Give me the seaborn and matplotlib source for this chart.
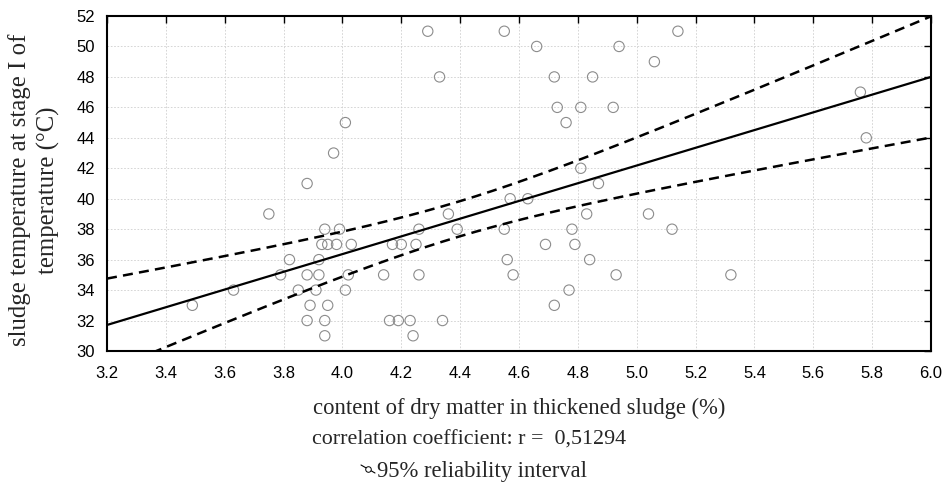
import numpy as np
import pandas as pd
import matplotlib
matplotlib.use("Agg")
import matplotlib.pyplot as plt
import seaborn as sns
from matplotlib.lines import Line2D

# ---- data ----
dry_matter = [3.49, 3.63, 3.75, 3.82, 3.79, 3.85, 3.88, 3.88, 3.92, 3.92, 3.91, 3.89, 3.95,
              3.88, 3.94, 3.94, 3.97, 4.01, 3.94, 3.99, 3.93, 3.95, 3.98, 4.03, 4.02, 4.01,
              4.29, 4.33, 4.55, 4.66, 4.72, 4.73, 4.76, 4.36, 4.26, 4.39, 4.17, 4.20, 4.25,
              4.14, 4.26, 4.16, 4.19, 4.23, 4.34, 4.24, 4.57, 4.63, 4.55, 4.69, 4.56, 4.58,
              4.72, 5.14, 4.94, 5.06, 4.85, 4.81, 4.92, 5.76, 5.78, 4.81, 4.87, 4.83, 5.04,
              4.78, 5.12, 4.79, 4.84, 4.93, 5.32, 4.77]
temperature = [33, 34, 39, 36, 35, 34, 41, 35, 35, 36, 34, 33, 33,
               32, 32, 31, 43, 45, 38, 38, 37, 37, 37, 37, 35, 34,
               51, 48, 51, 50, 48, 46, 45, 39, 38, 38, 37, 37, 37,
               35, 35, 32, 32, 32, 32, 31, 40, 40, 38, 37, 36, 35,
               33, 51, 50, 49, 48, 46, 46, 47, 44, 42, 41, 39, 39,
               38, 38, 37, 36, 35, 35, 34]
x_ticks = [3.2, 3.4, 3.6, 3.8, 4.0, 4.2, 4.4, 4.6, 4.8, 5.0, 5.2, 5.4, 5.6, 5.8, 6.0]
y_ticks = [30, 32, 34, 36, 38, 40, 42, 44, 46, 48, 50, 52]
x_label = "content of dry matter in thickened sludge (%)"
y_label = "sludge temperature at stage I of\ntemperature (°C)"
corr_text = "correlation coefficient: r =  0,51294"
legend_text = "95% reliability interval"

df = pd.DataFrame({"x": dry_matter, "y": temperature})

# regression line and 95% confidence band computed from the data
xa = np.asarray(dry_matter, float)
ya = np.asarray(temperature, float)
n = len(xa)
b1, b0 = np.polyfit(xa, ya, 1)
resid = ya - (b0 + b1 * xa)
s = np.sqrt(np.sum(resid ** 2) / (n - 2))
sxx = np.sum((xa - xa.mean()) ** 2)
tval = 1.9944  # t(0.975, n-2) approx
xg = np.linspace(x_ticks[0], x_ticks[-1], 200)
yg = b0 + b1 * xg
half = tval * s * np.sqrt(1.0 / n + (xg - xa.mean()) ** 2 / sxx)
fit = pd.DataFrame({"x": xg, "fit": yg, "lo": yg - half, "hi": yg + half})

sns.set_theme(style="white")
plt.rcParams["font.family"] = ["Liberation Sans", "DejaVu Sans"]

fig = plt.figure(figsize=(9.47, 4.84), dpi=100)
ax = fig.add_axes([107 / 947, 1 - 351 / 484, (931 - 107) / 947, (351 - 16) / 484])

sns.scatterplot(data=df, x="x", y="y", ax=ax, marker="o", s=55,
                facecolor="none", edgecolor="#8c8c8c", linewidth=0.8, zorder=3)
sns.lineplot(data=fit, x="x", y="fit", ax=ax, color="black", linewidth=1.6, zorder=4)
sns.lineplot(data=fit, x="x", y="hi", ax=ax, color="black", linewidth=1.8,
             linestyle=(0, (4, 2.5)), zorder=4)
sns.lineplot(data=fit, x="x", y="lo", ax=ax, color="black", linewidth=1.8,
             linestyle=(0, (4, 2.5)), zorder=4)

ax.set_xlim(x_ticks[0], x_ticks[-1])
ax.set_ylim(y_ticks[0], y_ticks[-1])
ax.set_xticks(x_ticks)
ax.set_yticks(y_ticks)
ax.set_xticklabels([f"{v:.1f}" for v in x_ticks], fontsize=12)
ax.set_yticklabels([f"{v}" for v in y_ticks], fontsize=12)
ax.tick_params(direction="in", length=5, width=1, top=True, right=True,
               colors="black")
ax.tick_params(axis="x", pad=10.5)
ax.tick_params(axis="y", pad=8.5)
ax.grid(True, color="#cfcfcf", linestyle=(0, (2, 2)), linewidth=0.6)
ax.set_axisbelow(True)
for sp in ax.spines.values():
    sp.set_color("black")
    sp.set_linewidth(1.5)
ax.set_xlabel("")
ax.set_ylabel("")

serif = ["Liberation Serif", "DejaVu Serif"]
fig.text(519 / 947, 1 - 408 / 484, x_label, ha="center", va="center",
         fontsize=16.3, family=serif)
fig.text(312 / 947, 1 - 440 / 484, corr_text, ha="left", va="center",
         fontsize=15.8, family=serif)
fig.text(377 / 947, 1 - 472 / 484, legend_text, ha="left", va="center",
         fontsize=16.3, family=serif)
fig.text(34 / 947, 1 - 190 / 484, y_label, ha="center", va="center",
         rotation=90, fontsize=17.8, family=serif, linespacing=1.35)

# legend icon: short line with small circle
fig.add_artist(Line2D([361 / 947, 375 / 947], [1 - 465 / 484, 1 - 473 / 484],
                      color="black", linewidth=0.8, transform=fig.transFigure))
fig.add_artist(Line2D([368 / 947], [1 - 469 / 484], marker="o", markersize=4,
                      markerfacecolor="white", markeredgecolor="black",
                      markeredgewidth=0.7, transform=fig.transFigure))

fig.savefig("out.png", dpi=100)
